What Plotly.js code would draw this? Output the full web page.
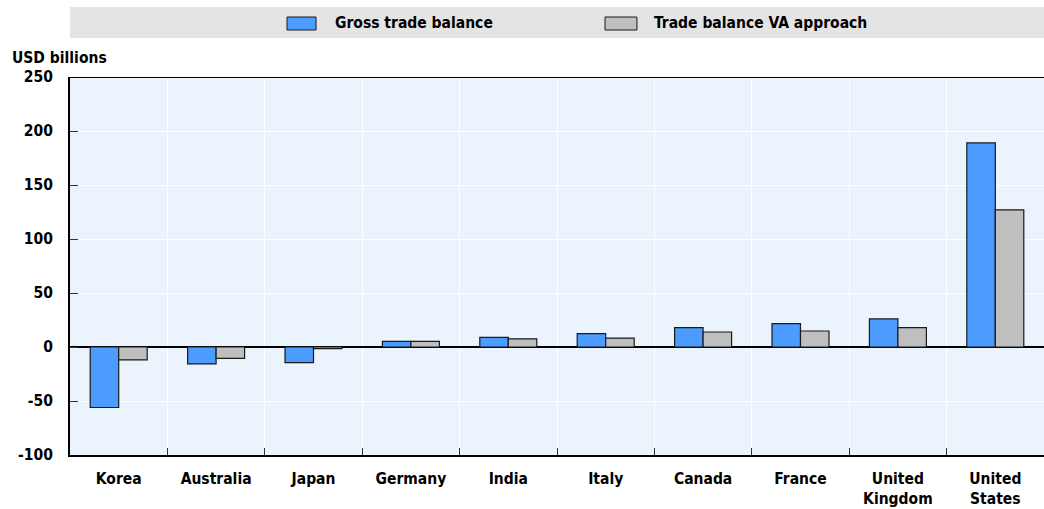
<!DOCTYPE html>
<html>
<head>
<meta charset="utf-8">
<script src="https://cdn.plot.ly/plotly-3.0.1.min.js"></script>
<style>html,body{margin:0;padding:0;background:#fff;}#chart{width:1044px;height:509px;}#chart text{font-stretch:condensed;}</style>
</head>
<body>
<div id="chart"></div>
<script>
const categories = ["Korea", "Australia", "Japan", "Germany", "India", "Italy", "Canada", "France", "United<br>Kingdom", "United<br>States"];
const grossTradeBalance = [-56, -15.7, -14.5, 5.2, 9, 12.3, 17.9, 21.6, 26, 189];
const tradeBalanceVA = [-12, -10.5, -1.5, 5.2, 7.5, 8.3, 13.9, 14.8, 17.9, 127];
const seriesNames = ["Gross trade balance", "Trade balance VA approach"];
const seriesColors = ["#4C9BFF", "#BFBFBF"];
const yTicks = [-100, -50, 0, 50, 100, 150, 200, 250];

const FONT = "'Liberation Sans Narrow', 'Arial Narrow', 'DejaVu Sans Condensed', 'DejaVu Sans', sans-serif";
const FS = 15.5;

const traces = [
  {type: "bar", name: seriesNames[0], x: categories, y: grossTradeBalance,
   marker: {color: seriesColors[0], line: {color: "#1a1a1a", width: 1.2}}},
  {type: "bar", name: seriesNames[1], x: categories, y: tradeBalanceVA,
   marker: {color: seriesColors[1], line: {color: "#1a1a1a", width: 1.2}}}
];

const layout = {
  width: 1044, height: 509,
  margin: {l: 70, r: 0, t: 77, b: 54, pad: 0},
  paper_bgcolor: "#ffffff",
  plot_bgcolor: "#EBF3FC",
  barmode: "group",
  bargap: 0.415,
  bargroupgap: 0,
  showlegend: false,
  font: {family: FONT, size: FS, color: "#000", weight: 700},
  xaxis: {
    type: "category",
    tickson: "boundaries",
    ticks: "inside", ticklen: 7, tickwidth: 1, tickcolor: "#333",
    showgrid: true, gridcolor: "#ffffff", gridwidth: 1,
    showline: true, linecolor: "#000", linewidth: 2,
    tickfont: {family: FONT, size: FS, color: "#000", weight: 700},
    ticklabelstandoff: 8,
    fixedrange: true
  },
  yaxis: {
    range: [-100, 250],
    tickvals: yTicks,
    ticktext: yTicks.map(String),
    ticks: "inside", ticklen: 8, tickwidth: 1, tickcolor: "#333",
    showgrid: true, gridcolor: "#ffffff", gridwidth: 1,
    zeroline: true, zerolinecolor: "#000", zerolinewidth: 1.5,
    showline: true, linecolor: "#000", linewidth: 2,
    tickfont: {family: FONT, size: FS, color: "#000", weight: 700},
    ticklabelstandoff: 12,
    fixedrange: true
  },
  shapes: [
    {type: "rect", xref: "paper", yref: "paper", x0: 0, x1: 1, y0: 1.103, y1: 1.185,
     fillcolor: "#E4E4E4", line: {width: 0}, layer: "below"},
    {type: "line", xref: "paper", yref: "y", x0: 0, x1: 1, y0: 250, y1: 250,
     line: {color: "#000", width: 2}},
    {type: "rect", xref: "paper", yref: "paper", x0: 0.2228, x1: 0.2526, y0: 1.1243, y1: 1.1587,
     fillcolor: seriesColors[0], line: {color: "#1a1a1a", width: 1}},
    {type: "rect", xref: "paper", yref: "paper", x0: 0.5493, x1: 0.5821, y0: 1.1243, y1: 1.1587,
     fillcolor: seriesColors[1], line: {color: "#1a1a1a", width: 1}}
  ],
  annotations: [
    {xref: "paper", yref: "paper", x: 0.270, y: 1.1429, xanchor: "left", yanchor: "middle",
     text: seriesNames[0], showarrow: false, font: {family: FONT, size: FS, color: "#000", weight: 700}},
    {xref: "paper", yref: "paper", x: 0.5975, y: 1.1429, xanchor: "left", yanchor: "middle",
     text: seriesNames[1], showarrow: false, font: {family: FONT, size: FS, color: "#000", weight: 700}},
    {xref: "paper", yref: "paper", x: -0.0616, y: 1.050, xanchor: "left", yanchor: "middle",
     text: "USD billions", showarrow: false, font: {family: FONT, size: FS, color: "#000", weight: 700}}
  ]
};

Plotly.newPlot("chart", traces, layout, {displayModeBar: false, staticPlot: true});
</script>
</body>
</html>
